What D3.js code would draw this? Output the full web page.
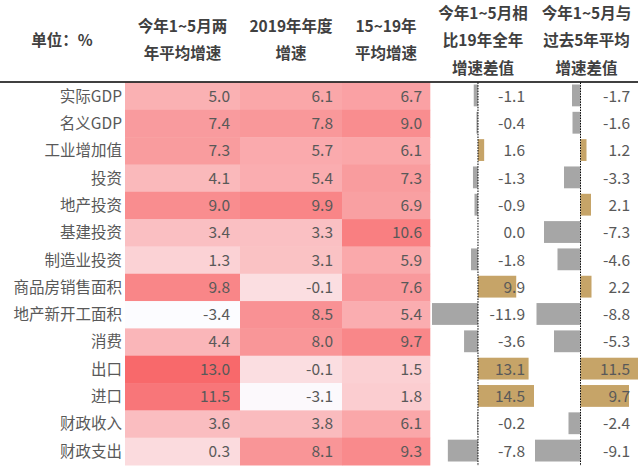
<!DOCTYPE html>
<html><head><meta charset="utf-8">
<script src="https://cdn.jsdelivr.net/npm/d3@7"></script>
<style>
html,body{margin:0;padding:0;background:#fff;}
svg{display:block;font-family:"Noto Sans CJK SC","Noto Sans",sans-serif;}
</style></head>
<body>
<svg id="chart" width="640" height="466"></svg>
<script>
const categories = ["实际GDP","名义GDP","工业增加值","投资","地产投资","基建投资","制造业投资","商品房销售面积","地产新开工面积","消费","出口","进口","财政收入","财政支出"];
const avg2yr = [5.0,7.4,7.3,4.1,9.0,3.4,1.3,9.8,-3.4,4.4,13.0,11.5,3.6,0.3];
const growth2019 = [6.1,7.8,5.7,5.4,9.9,3.3,3.1,-0.1,8.5,8.0,-0.1,-3.1,3.8,8.1];
const avg15to19 = [6.7,9.0,6.1,7.3,6.9,10.6,5.9,7.6,5.4,9.7,1.5,1.8,6.1,9.3];
const diffVs2019 = [-1.1,-0.4,1.6,-1.3,-0.9,0.0,-1.8,9.9,-11.9,-3.6,13.1,14.5,-0.2,-7.8];
const diffVs5yr = [-1.7,-1.6,1.2,-3.3,2.1,-7.3,-4.6,2.2,-8.8,-5.3,11.5,9.7,-2.4,-9.1];
const headerUnit = "单位：%";
const heatHeaders = [["今年1~5月两","年平均增速"],["2019年年度","增速"],["15~19年","平均增速"]];
const barHeaders = [["今年1~5月相","比19年全年","增速差值"],["今年1~5月与","过去5年平均","增速差值"]];

const svg = d3.select("#chart");
const textColor = "#595959";
const headColor = "#404040";
const topY = 82.5, bottomY = 465;
const y = d3.scaleBand().domain(categories).range([topY, bottomY]).padding(0);

// one colour scale over the whole heat block
const allHeat = avg2yr.concat(growth2019, avg15to19);
const color = d3.scaleLinear().domain(d3.extent(allHeat)).range(["#FCFCFF","#F8696B"]).interpolate(d3.interpolateRgb);

const heatCols = [
  {values: avg2yr, x0: 125, x1: 240, tx: 230},
  {values: growth2019, x0: 240, x1: 342, tx: 333},
  {values: avg15to19, x0: 342, x1: 430, tx: 422}
];
heatCols.forEach((c, ci) => {
  const g = svg.append("g");
  g.selectAll("rect").data(c.values).join("rect")
    .attr("x", c.x0).attr("width", c.x1 - c.x0 + 0.3)
    .attr("y", (d,i) => y(categories[i])).attr("height", y.bandwidth() + 0.5)
    .attr("fill", d => color(d));
  g.selectAll("text").data(c.values).join("text")
    .attr("x", c.tx).attr("y", (d,i) => y(categories[i]) + y.bandwidth()/2)
    .attr("dy", "0.35em").attr("text-anchor", "end")
    .attr("font-size", "15.5px").attr("fill", textColor)
    .text(d => d.toFixed(1));
  heatHeaders[ci].forEach((t, li) => {
    svg.append("text").attr("x", (c.x0 + c.x1)/2).attr("y", 27 + li*27)
      .attr("dy","0.35em").attr("text-anchor","middle")
      .attr("font-size","15.5px").attr("font-weight","bold").attr("fill",headColor).text(t);
  });
});

// row labels
svg.append("g").selectAll("text").data(categories).join("text")
  .attr("x", 122).attr("y", d => y(d) + y.bandwidth()/2)
  .attr("dy","0.35em").attr("text-anchor","end")
  .attr("font-size","15.5px").attr("fill",textColor).text(d => d);

svg.append("text").attr("x", 62).attr("y", 41).attr("dy","0.35em")
  .attr("text-anchor","middle").attr("font-size","15.5px").attr("font-weight","bold")
  .attr("fill",headColor).text(headerUnit);

// bar columns
const barCols = [
  {values: diffVs2019, r0: 432, r1: 534, tx: 525},
  {values: diffVs5yr, r0: 535, r1: 638, tx: 630}
];
barCols.forEach((c, ci) => {
  const x = d3.scaleLinear().domain(d3.extent(c.values)).range([c.r0, c.r1]);
  const g = svg.append("g");
  g.selectAll("rect").data(c.values).join("rect")
    .attr("x", d => Math.min(x(0), x(d))).attr("width", d => Math.abs(x(d) - x(0)))
    .attr("y", (d,i) => y(categories[i]) + 2).attr("height", y.bandwidth() - 5.5)
    .attr("fill", d => d > 0 ? "#C6A468" : "#A6A6A6");
  g.append("line").attr("x1", x(0)).attr("x2", x(0)).attr("y1", topY).attr("y2", 466)
    .attr("stroke","#000").attr("stroke-width",1).attr("stroke-dasharray","1.5,1.2");
  g.selectAll("text").data(c.values).join("text")
    .attr("x", c.tx).attr("y", (d,i) => y(categories[i]) + y.bandwidth()/2)
    .attr("dy","0.35em").attr("text-anchor","end")
    .attr("font-size","15.5px").attr("fill",textColor).text(d => d.toFixed(1));
  barHeaders[ci].forEach((t, li) => {
    svg.append("text").attr("x", (c.r0 + c.r1)/2).attr("y", 13.5 + li*27.3)
      .attr("dy","0.35em").attr("text-anchor","middle")
      .attr("font-size","15.5px").attr("font-weight","bold").attr("fill",headColor).text(t);
  });
});

// header rule
svg.append("line").attr("x1",0).attr("x2",638).attr("y1",82).attr("y2",82)
  .attr("stroke","#000").attr("stroke-width",1.6);
</script>
</body></html>
